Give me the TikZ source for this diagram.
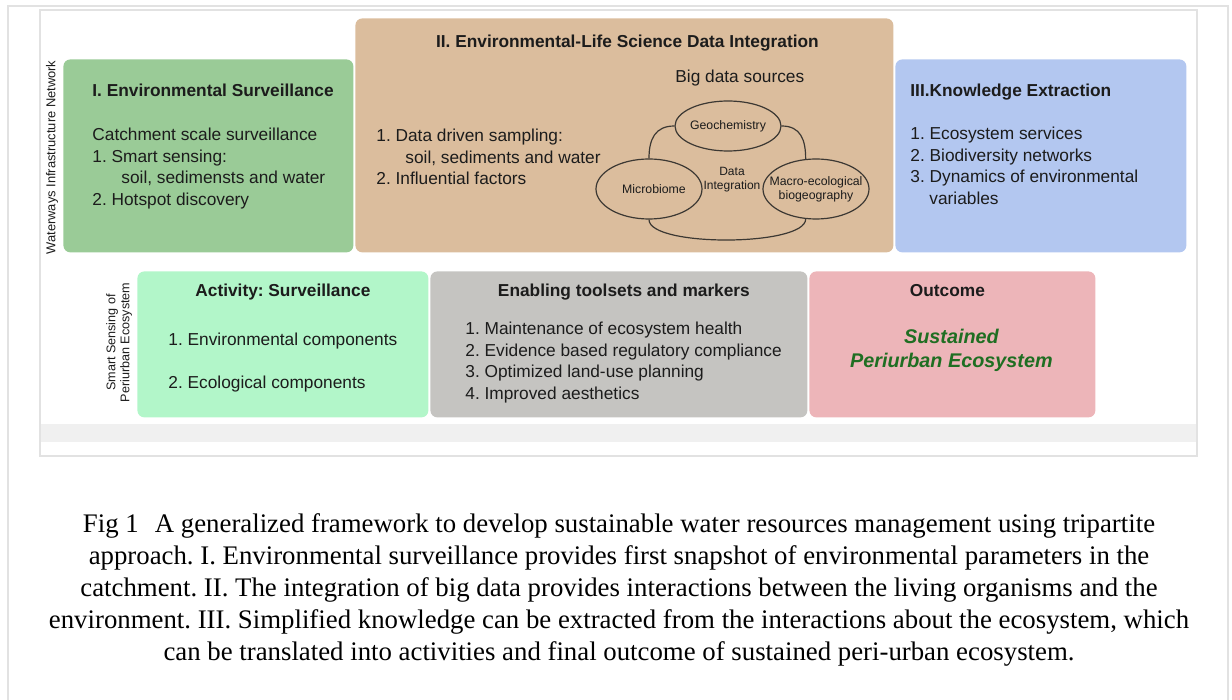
\documentclass[tikz,border=0pt]{standalone}
\usepackage{fontspec}
\setmainfont{Liberation Sans}
\newfontfamily\capserif{Liberation Serif}
\usepackage{xcolor}
\usetikzlibrary{calc}
\usetikzlibrary{shapes.geometric}
\frenchspacing

\definecolor{survgreen}{HTML}{9ACB97}
\definecolor{integtan}{HTML}{DBBD9D}
\definecolor{knowblue}{HTML}{B3C7F0}
\definecolor{actmint}{HTML}{B2F6C9}
\definecolor{toolgrey}{HTML}{C5C4C1}
\definecolor{outcpink}{HTML}{EDB5B9}
\definecolor{ecogreen}{HTML}{1F6E22}
\definecolor{framegrey}{HTML}{E2E2E2}
\definecolor{stripgrey}{HTML}{F0F0F0}
\definecolor{inkgrey}{HTML}{1C1C1C}
\definecolor{ringgrey}{HTML}{3C3833}

\tikzset{
panel/.style = {rounded corners=3.5pt,
        inner sep=0pt,
        anchor=north west
            },
headtxt/.style = {font=\fontsize{8.65}{10.75}\selectfont\bfseries,
        text=inkgrey,
        inner sep=0pt
            },
% multi-line blocks sit on the baseline of their last line
bodytxt/.style = {font=\fontsize{8.65}{10.75}\selectfont,
        text=inkgrey,
        inner sep=0pt,
        align=left,
        anchor=base west
            },
ringtxt/.style = {font=\fontsize{6.15}{7}\selectfont,
        text=inkgrey,
        inner sep=0pt,
        align=center
            },
sidetxt/.style = {font=\fontsize{6.45}{7.2}\selectfont,
        text=inkgrey,
        inner sep=0pt,
        align=center,
        rotate=90
            },
source/.style = {ellipse,
        draw=ringgrey,
        line width=0.6pt,
        minimum width=53pt,
        minimum height=30pt,
        inner sep=0pt
            },
ring/.style = {draw=ringgrey,
        line width=0.6pt
            }
        }

\begin{document}
\begin{tikzpicture}[x=0.5pt,y=-0.5pt]

\useasboundingbox (0,0) rectangle (1232,700);

%%% Frames:

\draw[framegrey, line width=1pt] (8,700) |- (1228,6) -- (1228,700);
\fill[stripgrey] (41,424) rectangle (1196,442);
\draw[framegrey, line width=0.8pt] (40,10) rectangle (1197,456);

%%% Defining panels:

\node[panel, fill=survgreen, minimum width=145pt, minimum height=96.5pt] (surv) at (63,59) {};
\node[panel, fill=integtan, minimum width=269pt, minimum height=117pt] (integ) at (355,18) {};
\node[panel, fill=knowblue, minimum width=145.5pt, minimum height=96.5pt] (know) at (895,59) {};

\node[panel, fill=actmint, minimum width=145.5pt, minimum height=73pt] (act) at (137,271) {};
\node[panel, fill=toolgrey, minimum width=188.5pt, minimum height=73pt] (tools) at (430,271) {};
\node[panel, fill=outcpink, minimum width=143pt, minimum height=73pt] (outc) at (809,271) {};

%%% Side labels:

\node[sidetxt] (waterways) at (52,157.5) {Waterways Infrastructure Network};
\node[
     sidetxt,
     font=\fontsize{6.3}{7}\selectfont,
     ] (smartsense) at (119,342.5) {Smart Sensing of\\Periurban Ecosystem};

%%% I. surveillance

\node[headtxt, anchor=base west] (survhead) at ($(surv.north west)+(29,38)$)
     {I. Environmental Surveillance};
\node[bodytxt] (survbody) at ($(surv.north west)+(29,146.5)$)
     {Catchment scale surveillance\\
      1. Smart sensing:\\
      \hspace*{14.5pt}soil, sedimensts and water\\
      2. Hotspot discovery};

%%% II. integration

\node[headtxt, anchor=base] (integhead) at ($(integ.north)+(3,30)$)
     {II. Environmental-Life Science Data Integration};
\node[bodytxt] (bigdata) at ($(integ.north west)+(320,65)$) {Big data sources};
\node[bodytxt] (integbody) at ($(integ.north west)+(21,167)$)
     {1. Data driven sampling:\\
      \hspace*{14.5pt}soil, sediments and water\\
      2. Influential factors};

\node[source, minimum height=25pt] (geo) at ($(integ.north west)+(373,108)$) {};
\node[source] (micro) at ($(integ.north west)+(294,171)$) {};
\node[source] (macro) at ($(integ.north west)+(461,171)$) {};

\node[ringtxt] (geotxt) at (geo) {Geochemistry};
\node[ringtxt] (microtxt) at ($(micro)+(5,0)$) {Microbiome};
\node[ringtxt] (macrotxt) at (macro) {Macro-ecological\\biogeography};
\node[ringtxt, font=\fontsize{6}{7}\selectfont] (dataint) at (732,180) {Data\\Integration};

\draw[ring] (geo.west) to[out=180, in=90, looseness=1.2] (micro.north);
\draw[ring] (geo.east) to[out=0, in=90, looseness=1.2] (macro.109);
\draw[ring] (micro.south) to[out=-90, in=-90, looseness=0.45] (macro.251);

%%% III. knowledge

\node[headtxt, anchor=base west] (knowhead) at ($(know.north west)+(15,38)$)
     {III.Knowledge Extraction};
\node[bodytxt] (knowbody) at ($(know.north west)+(15,145.5)$)
     {1. Ecosystem services\\
      2. Biodiversity networks\\
      3. Dynamics of environmental\\
      \hspace*{9.5pt}variables};

%%% bottom row

\node[headtxt, anchor=base] (acthead) at ($(act.north)+(0,26)$) {Activity: Surveillance};
\node[bodytxt] (actone) at ($(act.north west)+(31,74)$) {1. Environmental components};
\node[bodytxt] (acttwo) at ($(act.north west)+(31,117)$) {2. Ecological components};

\node[headtxt, anchor=base] (toolhead) at ($(tools.north)+(5,26)$) {Enabling toolsets and markers};
\node[bodytxt] (toolbody) at ($(tools.north west)+(35,128.5)$)
     {1. Maintenance of ecosystem health\\
      2. Evidence based regulatory compliance\\
      3. Optimized land-use planning\\
      4. Improved aesthetics};

\node[headtxt, anchor=base] (outchead) at ($(outc.north)+(-5,26)$) {Outcome};
\node[
     headtxt,
     anchor=base,
     align=center,
     text=ecogreen,
     font=\fontsize{9.9}{12}\selectfont\bfseries\itshape,
     ] (outcbody) at ($(outc.north)+(-1,96)$) {Sustained\\Periurban Ecosystem};

%%% caption

\node[
     inner sep=0pt,
     anchor=base,
     align=center,
     text=black,
     font=\capserif\fontsize{13.4}{16}\selectfont,
     ] (figcap) at (619,660)
     {Fig 1\hspace{0.35em} A generalized framework to develop sustainable water resources management using tripartite\\
      approach. I. Environmental surveillance provides first snapshot of environmental parameters in the\\
      catchment. II. The integration of big data provides interactions between the living organisms and the\\
      environment. III. Simplified knowledge can be extracted from the interactions about the ecosystem, which\\
      can be translated into activities and final outcome of sustained peri-urban ecosystem.};

\end{tikzpicture}
\end{document}
